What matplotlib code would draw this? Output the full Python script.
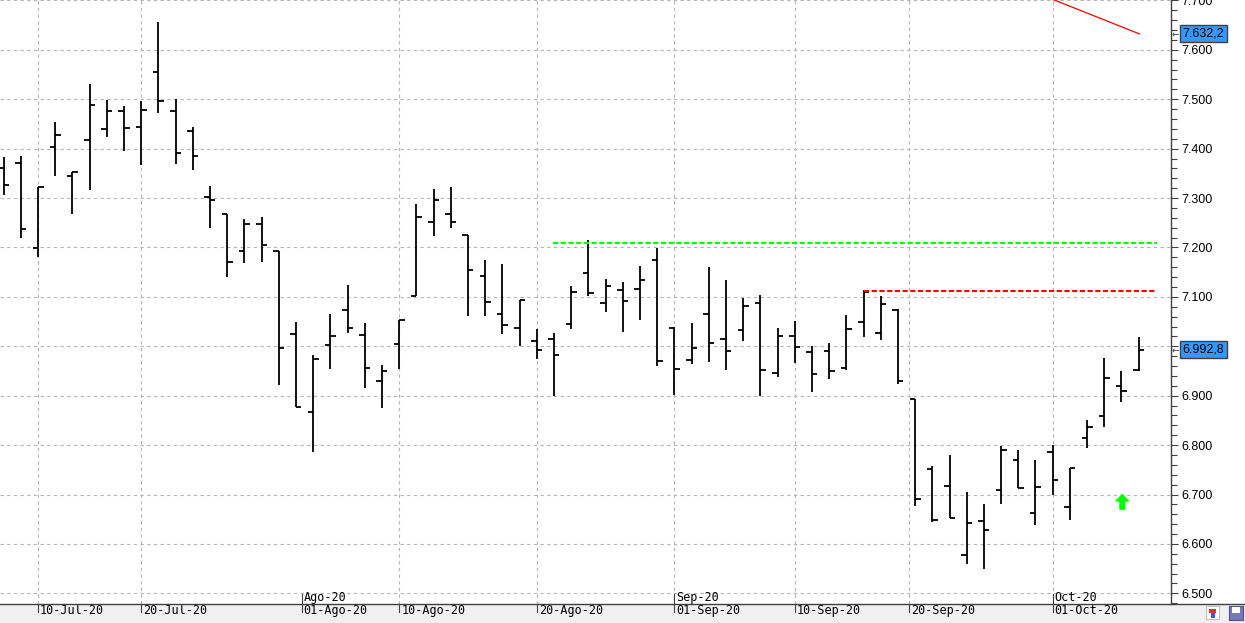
import numpy as np
import pandas as pd
import matplotlib
matplotlib.use('Agg')
import matplotlib.pyplot as plt
from matplotlib.patches import Rectangle
from matplotlib.lines import Line2D
from matplotlib.ticker import MultipleLocator, FuncFormatter

# sesiones (dias habiles) 08-Jul-20 .. 08-Oct-20
fechas = pd.bdate_range('2020-07-08', '2020-10-08')

apertura = [7360, 7370, 7198, 7403, 7344, 7417, 7439, 7476, 7443, 7555,
            7476, 7435, 7302, 7268, 7192, 7248, 7193, 7025, 6866, 7002,
            7073, 7022, 6929, 7004, 7102, 7251, 7267, 7226, 7142, 7065,
            7038, 7010, 7015, 7045, 7148, 7087, 7113, 7115, 7174, 7038,
            6972, 7065, 7015, 7032, 7087, 6945, 7020, 6988, 6990, 6957,
            7049, 7026, 7073, 6893, 6751, 6717, 6577, 6646, 6709, 6769,
            6663, 6787, 6674, 6814, 6858, 6919, 6953]
maximo = [7383, 7385, 7322, 7453, 7352, 7531, 7499, 7486, 7497, 7656,
          7500, 7444, 7324, 7268, 7258, 7262, 7193, 7049, 6982, 7065,
          7124, 7047, 6962, 7053, 7289, 7318, 7322, 7226, 7175, 7166,
          7093, 7034, 7026, 7122, 7215, 7136, 7130, 7163, 7199, 7040,
          7047, 7160, 7134, 7097, 7103, 7038, 7051, 7000, 7006, 7063,
          7114, 7101, 7075, 6893, 6758, 6780, 6705, 6681, 6798, 6790,
          6769, 6800, 6753, 6850, 6976, 6951, 7018]
minimo = [7307, 7220, 7181, 7345, 7268, 7317, 7424, 7396, 7366, 7473,
          7368, 7357, 7240, 7141, 7169, 7171, 6922, 6877, 6787, 6955,
          7026, 6916, 6876, 6955, 7102, 7224, 7240, 7062, 7062, 7024,
          7001, 6974, 6899, 7036, 7102, 7070, 7028, 7054, 6960, 6901,
          6964, 6969, 6953, 7011, 6899, 6937, 6967, 6908, 6934, 6953,
          7019, 7013, 6923, 6677, 6644, 6652, 6560, 6550, 6680, 6713,
          6638, 6700, 6648, 6794, 6837, 6887, 6951]
cierre = [7326, 7237, 7322, 7427, 7352, 7488, 7476, 7441, 7478, 7496,
          7391, 7385, 7296, 7170, 7248, 7206, 6996, 6877, 6974, 7020,
          7038, 6957, 6949, 7053, 7262, 7296, 7251, 7154, 7089, 7043,
          7093, 6992, 6982, 7109, 7107, 7123, 7091, 7134, 6970, 6955,
          6996, 7006, 6990, 7081, 6953, 7020, 6998, 6943, 6951, 7036,
          7110, 7085, 6929, 6690, 6648, 6652, 6642, 6628, 6790, 6713,
          6715, 6729, 6753, 6836, 6935, 6909, 6992.8]

etiquetas_dias = ['10-Jul-20', '20-Jul-20', '01-Ago-20', '10-Ago-20', '20-Ago-20',
                  '01-Sep-20', '10-Sep-20', '20-Sep-20', '01-Oct-20']
fechas_dias = ['2020-07-10', '2020-07-20', '2020-08-01', '2020-08-10', '2020-08-20',
               '2020-09-01', '2020-09-10', '2020-09-20', '2020-10-01']
etiquetas_mes = ['Ago-20', 'Sep-20', 'Oct-20']
fechas_mes = ['2020-08-01', '2020-09-01', '2020-10-01']

# lineas dibujadas sobre el grafico
nivel_verde = 7210      # desde la sesion 32
nivel_rojo = 7112.5     # desde la sesion 50
tendencia_x = [60.0, 66.05]
tendencia_y = [7716, 7632.2]
ultimo = 6992.8

n = len(cierre)
x = np.arange(n)
ords = np.array([d.toordinal() for d in fechas])


def pos(d):
    return np.interp(pd.Timestamp(d).toordinal(), ords, x)


def fmt_precio(v, p):
    # la caja del ultimo precio tapa la etiqueta 7.000
    if abs(v - 7000) < 1:
        return ''
    return f'{v:,.0f}'.replace(',', '.')


W, H = 1245, 623
fig = plt.figure(figsize=(W / 100, H / 100), dpi=100)
ax = fig.add_axes([0, 19 / H, 1170.5 / W, 604 / H])
ax.set_xlim(-0.21, 67.85)
ax.set_ylim(6478.4, 7700.9)

# rejilla
ax.yaxis.set_major_locator(MultipleLocator(100))
ax.yaxis.set_minor_locator(MultipleLocator(20))
ax.yaxis.grid(True, color='#b4b4b4', ls=(0, (3, 3)), lw=0.8)
for lab, d in zip(etiquetas_dias, fechas_dias):
    if lab != '01-Ago-20':
        ax.axvline(pos(d), color='#b4b4b4', ls=(0, (3, 3)), lw=0.8, zorder=0)
ax.set_axisbelow(True)

# barras OHLC
ax.vlines(x, minimo, maximo, color='black', lw=1.3)
ax.hlines(apertura, x - 0.32, x, color='black', lw=1.3)
ax.hlines(cierre, x, x + 0.32, color='black', lw=1.3)

# niveles y tendencia
ax.plot([31.96, 67.04], [nivel_verde] * 2, color='#00ff00', lw=1.5, dashes=(2.5, 1.2))
ax.plot([50.05, 67.04], [nivel_rojo] * 2, color='#ff0000', lw=1.5, dashes=(2.5, 1.2))
ax.plot(tendencia_x, tendencia_y, color='#ff0000', lw=0.9)

# flecha verde
ax.annotate('', xy=(65.05, 6702), xytext=(65.05, 6669),
            arrowprops=dict(arrowstyle='simple,head_length=0.72,head_width=1.35,tail_width=0.55',
                            fc='#00ff00', ec='none', shrinkA=0, shrinkB=0, mutation_scale=8))

# eje derecho
ax.yaxis.tick_right()
ax.yaxis.set_major_formatter(FuncFormatter(fmt_precio))
ax.tick_params(axis='y', which='major', length=4.8, width=0.8, color='#404040',
               pad=3, labelsize=9, labelcolor='black')
ax.tick_params(axis='y', which='minor', length=4.2, width=0.8, color='#404040')
for t in ax.get_yticklabels():
    t.set_family('Liberation Sans')
ax.set_xticks([])
for s in ['left', 'top', 'bottom']:
    ax.spines[s].set_visible(False)
ax.spines['right'].set_color('#404040')
ax.spines['right'].set_linewidth(1)

# cajas de precio
ytr = ax.get_yaxis_transform()
for val, txt in [(tendencia_y[-1], '7.632,2'), (ultimo, '6.992,8')]:
    ax.text(1182.5 / 1170.5, val, txt, transform=ytr, ha='left', va='center',
            fontsize=9, family='Liberation Sans', color='black', clip_on=False,
            bbox=dict(boxstyle='square,pad=0.2', fc='#3399ff', ec='#404040', lw=1))
    ax.text(1171.5 / 1170.5, val, '←', transform=ytr, ha='left', va='center',
            fontsize=6.5, color='#404040', clip_on=False)

# franja inferior con fechas
fig.add_artist(Rectangle((0, 0), 1, 19 / H, transform=fig.transFigure,
                         fc='#f0f0f0', ec='none', zorder=-1))
fig.add_artist(Line2D([0, 1], [19 / H] * 2, transform=fig.transFigure,
                      color='#404040', lw=1))
xtr = ax.get_xaxis_transform()
for lab, d in zip(etiquetas_dias, fechas_dias):
    p = pos(d)
    ax.plot([p, p], [0, -8 / 604], transform=xtr, color='#404040', lw=0.8, clip_on=False)
    ax.annotate(lab, xy=(p, 0), xycoords=xtr, xytext=(2, -10), textcoords='offset pixels',
                ha='left', va='baseline', fontsize=8.5, family='DejaVu Sans Mono',
                annotation_clip=False)
for lab, d in zip(etiquetas_mes, fechas_mes):
    p = pos(d)
    ax.plot([p, p], [10 / 604, 0], transform=xtr, color='#404040', lw=0.8, clip_on=False)
    ax.annotate(lab, xy=(p, 0), xycoords=xtr, xytext=(2, 3), textcoords='offset pixels',
                ha='left', va='baseline', fontsize=8.5, family='DejaVu Sans Mono',
                annotation_clip=False)

# iconos de la esquina
fig.add_artist(Rectangle((1206 / W, 4 / H), 13 / W, 13 / H, transform=fig.transFigure,
                         fc='white', ec='#c0c0c0', lw=0.8))
fig.add_artist(Rectangle((1209 / W, 10 / H), 7 / W, 4 / H, transform=fig.transFigure,
                         fc='#e03030', ec='none'))
fig.add_artist(Rectangle((1211 / W, 5 / H), 4 / W, 5 / H, transform=fig.transFigure,
                         fc='#3060e0', ec='none'))
fig.add_artist(Rectangle((1229 / W, 3 / H), 14 / W, 14 / H, transform=fig.transFigure,
                         fc='#7878b8', ec='#505090', lw=0.8))
fig.add_artist(Rectangle((1232 / W, 10 / H), 8 / W, 6 / H, transform=fig.transFigure,
                         fc='white', ec='none'))

fig.savefig('out.png', dpi=100)
